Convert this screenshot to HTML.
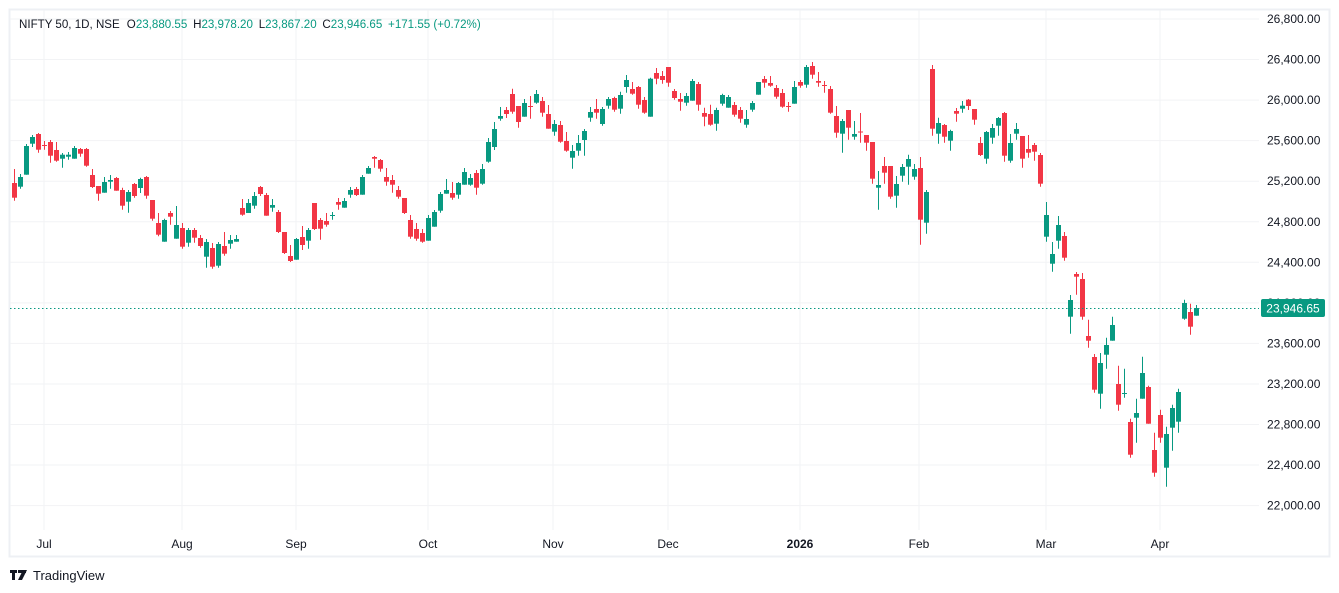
<!DOCTYPE html>
<html><head><meta charset="utf-8"><style>
html,body{margin:0;padding:0;background:#fff;width:1339px;height:593px;overflow:hidden}
svg{display:block}
text{font-family:"Liberation Sans",sans-serif}
</style></head><body>
<svg id="s" width="1339" height="593" viewBox="0 0 1339 593" xmlns="http://www.w3.org/2000/svg">
<rect x="9.5" y="9.5" width="1320" height="547" fill="#fff" stroke="#eef0f4" stroke-width="2"/>
<g id="grid" stroke="#f2f3f5" stroke-width="1"></g>
<g id="c"></g>
<line x1="10" y1="308.5" x2="1259" y2="308.5" stroke="#089981" stroke-width="1" stroke-dasharray="1.5,2.5"/>
<g id="ax" font-size="12" fill="#131722"></g>
<rect x="1261" y="299" width="64" height="18" rx="2" fill="#089981"/>
<text x="1293" y="312.5" font-size="12" fill="#fff" text-anchor="middle">23,946.65</text>
<g transform="translate(19,28) scale(0.965,1)"><text x="0" y="0" font-size="12" fill="#131722">NIFTY 50, 1D, NSE <tspan dx="4">O</tspan><tspan fill="#089981">23,880.55</tspan><tspan dx="6">H</tspan><tspan fill="#089981">23,978.20</tspan><tspan dx="6">L</tspan><tspan fill="#089981">23,867.20</tspan><tspan dx="6">C</tspan><tspan fill="#089981">23,946.65</tspan><tspan dx="6" fill="#089981">+171.55 (+0.72%)</tspan></text></g>
<g fill="#131722"><rect x="10" y="570" width="7" height="3"/><rect x="12" y="570" width="3" height="10"/><rect x="18" y="570" width="8" height="3"/><polygon points="23,570 27,570 22,580 18,580"/></g>
<text x="33" y="580" font-size="13" fill="#131722">TradingView</text>
</svg>
<script>
var D=[
[183,197.7,169,200.7],[186.7,177,174,188.7],[174.7,146,144,174.7],[143.7,137,135,147],[134,149.7,133,152.7],[145,145.6,141,149.7],[142,155.7,140,162.7],[150,160.7,142,161.7],[158.7,154.7,153,167.7],[156.7,154.7,152,159.7],
[158.7,148,146,158.7],[149,153.7,148,156.7],[149,165.7,148,166.7],[175,187,169,188],[186,193.7,186,200.7],[192.7,182,177,192.7],[181.7,180,175,188.7],[178,190.7,177,190.7],[190,205.7,187.7,209.7],[201.7,192,190,212.7],
[184,196,183,197.7],[188,179,177.7,193],[177,195.7,176,198.7],[200,218.7,200,220.7],[223,234.7,213,236.3],[241.7,220,218.7,241.7],[213,216.7,211,224.7],[238.7,225,206,238.7],[228,246.7,223,248.7],[242.7,230,228,246.7],
[230,237.7,228,242.7],[238,246,235,247.7],[256.7,242,239,267.7],[248,266.7,243,268.7],[265.7,244,242,267.7],[246,253.7,232,255.7],[243.7,240,235,248.7],[241.7,239,235,241.7],[208,214.7,199,215.7],[213,203,199,213],
[205.7,196,192,208.7],[187,194,186,196],[195,215.7,193,215.7],[207.7,205,199,211.7],[212,232,210,233],[232,253,232,254],[256,261,245,262],[259.7,239,238,259.7],[237,245,226,250],[240.7,230,228,248.7],
[203,229,203,230],[220,228.7,218,239.7],[221,224.7,213,226.7],[215.6,215,212,219.7],[202,204.7,198,209.7],[207.7,201,198,207.7],[194.7,190,187,197.7],[189,195,187,196],[194.7,177,175,194.7],[173.7,168,166,173.7],
[157,158.7,156,167.7],[160,168.7,159,171.7],[177,181.7,168,185.7],[180,184.7,175,192.7],[190,196.7,186,198.7],[198,213,198,214],[220,236.7,215,238.7],[229,238.7,223,240.7],[233,241.7,229,242.7],[240.7,218,215,240.7],
[226.7,212,210,226.7],[210.7,194,192,212.7],[193.7,190,179,193.7],[193,197.7,182,199.7],[194.7,183,182,198.7],[184.7,172,168,184.7],[184.7,178,174,185.7],[173,187.7,170,194.7],[183.7,169,164,184.7],[161.7,142,138,162.7],
[147,129,122,150],[118.7,116,107,120.7],[110,114,107,118],[94,111.7,88.7,113.7],[106,122,106,127.7],[116.7,103,99,116.7],[106,106.6,96,118.7],[102.7,94,90,103.7],[101,112.7,97,116.7],[114,128.7,105,128.7],
[131.7,124,120,135.7],[125,141.7,121,142.7],[141,150.7,132,151.7],[157.7,151,145,168.7],[150.7,143,135,155.7],[140,131,129,155.7],[117.7,112,107,121.7],[109,112.7,99,118.7],[124,109,107,125.7],[105.7,99,97,108.7],
[98,109.7,96.7,111.7],[108.7,95,91.7,113.7],[87,80,75,92.7],[89,93.7,82,94.7],[87,104.7,86,108.7],[100,112.7,97,113.7],[116.7,78.7,77.7,116.7],[73,78.7,68,84.3],[76,80,71,83.7],[67,82.7,67,86.7],
[91,98,89,99.7],[99,101.7,93,110.7],[102.7,96,93,105.7],[100.7,81,79,100.7],[84,104.7,82,110.7],[113,116.7,107.7,126.3],[114,124.7,104.7,125.7],[123.7,110,107.7,130.7],[103.7,95,93.7,105.7],[107.7,97,95,107.7],
[105,114.7,102,116.7],[110,118.7,107,122.7],[124.7,119,110,127.7],[109.7,103,101,111.7],[94.7,82,82,94.7],[79,82.7,76,87.7],[83,85.7,76,86.7],[88,96.7,85,98.7],[93,106.7,89,107.7],[106,106.6,102,111.7],
[103.7,87,81,103.7],[82,85.7,80,87.7],[84.7,67,65,87.7],[66,74.7,62,78.7],[81,82.7,72,86.7],[85,85.6,81,92.7],[89,112.7,86,113.7],[116,132.7,106,137.7],[133.7,121,119,152.7],[110,127.7,110,139.7],
[136.7,134,121,139.7],[131.5,132,113,142.7],[135,142.7,135,150.7],[142,178.7,142,183.7],[187.7,185,171,209.7],[166,172.7,157,183.7],[166,196.7,166,198.7],[195.7,184,176,207.7],[175.7,167,164,181.7],[166.7,159,154.7,184.7],
[176.7,169,164,179.7],[168,219.7,157,244.7],[222.7,192,190,233.7],[69,128.7,65,135.7],[133.7,123,117.7,143.7],[125,136.7,124,142.7],[140.7,131,129.7,150.7],[111,113.7,108,121.7],[108.7,105.7,101,112.7],[99.7,106,99,110],
[109,119.7,109,124.7],[143,155,137,156],[158.7,132,131,163.7],[137.7,128,124,143.7],[125.7,118,117,135.7],[113,155.7,112,161.7],[160.7,143,134,162.7],[133.7,129,123,139.7],[136,158.7,136,167.7],[149,152.7,135,157.7],
[145,151.7,143,160.7],[155,183.7,153,186.7],[236.7,215,202,241.7],[263.7,254,242,271.7],[240.7,225,216,248.7],[236,257.7,232,260.7],[316.7,300,295,333.7],[274,276.7,272,294.7],[279,316.7,273,319.7],[336,340.7,319.7,347.7],
[357,389.7,354,392.7],[393.7,363,353,408.7],[354.7,345,337.7,368.7],[340.7,325,316.7,340.7],[384,404.7,365.7,410.7],[393.6,393,368.7,397.7],[422,454.7,418.7,457.7],[417.7,413,398.7,442.7],[398.7,373,356.7,398.7],[387,423.7,385.7,423.7],
[450,472.7,432.7,476.7],[415,437.7,409.7,442.7],[467.7,434,426.7,486.7],[427.7,408,404.7,450.7],[421.7,392,388.7,432.7],[318.7,303,299.7,319.7],[312,326.7,303.7,334.7],[315.7,308,305,315.7]];
var g=document.getElementById('c'),h='';
D.forEach(function(d,k){var x=14.5+6*k,o=d[0],c=d[1],up=c<o,col=up?'#089981':'#f23645';
var t=Math.min(o,c),b=Math.max(o,c);if(b-t<1)b=t+1;
h+='<line x1="'+x+'" x2="'+x+'" y1="'+d[2]+'" y2="'+d[3]+'" stroke="'+col+'" stroke-width="1"/>';
h+='<rect x="'+(x-2.5)+'" y="'+t+'" width="5" height="'+(b-t)+'" fill="'+col+'"/>';});
g.innerHTML=h;
var gr='',ax='';
for(var i=0;i<13;i++){var y=19+i*40.55,p=26800-400*i;gr+='<line x1="10" x2="1259" y1="'+y+'" y2="'+y+'"/>';
ax+='<text x="1267" y="'+(y+4)+'">'+p.toLocaleString('en-US')+'.00</text>';}
var M=[[44,'Jul'],[182,'Aug'],[296,'Sep'],[428,'Oct'],[553,'Nov'],[668,'Dec'],[800,'2026'],[919,'Feb'],[1046,'Mar'],[1160,'Apr']];
M.forEach(function(m){gr+='<line x1="'+m[0]+'" x2="'+m[0]+'" y1="10" y2="530"/>';
ax+='<text x="'+m[0]+'" y="548" text-anchor="middle"'+(m[1]=='2026'?' font-weight="bold"':'')+'>'+m[1]+'</text>';});
document.getElementById('grid').innerHTML=gr;document.getElementById('ax').innerHTML=ax;
</script>
</body></html>
